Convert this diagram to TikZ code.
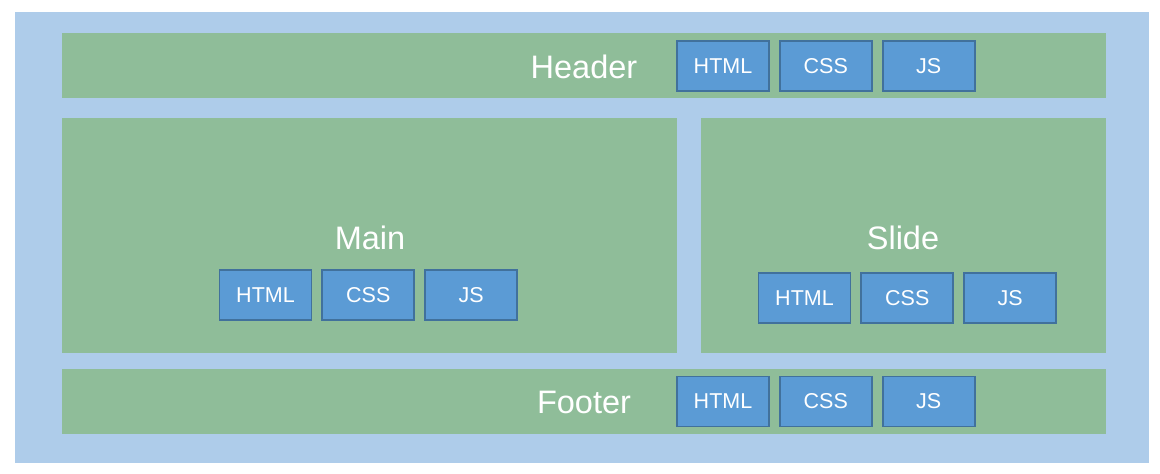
\documentclass[tikz,border=0pt]{standalone}
\usepackage{fontspec}
\setmainfont{Liberation Sans}
\usetikzlibrary{positioning}

\definecolor{pageblue}{HTML}{AECCEA}
\definecolor{areagreen}{HTML}{8FBD99}
\definecolor{partblue}{HTML}{5B9BD5}
\definecolor{partedge}{HTML}{41719C}

\begin{document}
\begin{tikzpicture}[x=1pt,y=-1pt,node distance=9pt]

   \tikzstyle{area}=[fill=areagreen,draw=none,inner sep=0pt]
   \tikzstyle{part}=[fill=partblue,draw=partedge,line width=1.8pt,text=white,
                     minimum width=92pt,minimum height=50pt,inner sep=0pt,
                     font=\fontsize{21.5}{24}\selectfont]
   \tikzstyle{title}=[text=white,inner sep=0pt,font=\fontsize{32.5}{36}\selectfont]

   % page and outer frame
   \useasboundingbox[fill=white] (0,0) rectangle (1160,474);
   \fill[pageblue] (15,12) rectangle (1149,463);

   % areas
   \node[area,minimum width=1044pt,minimum height=65pt] (header) at (584,65.5) {};
   \node[area,minimum width=615pt,minimum height=235pt] (main) at (369.5,235.5) {};
   \node[area,minimum width=405pt,minimum height=235pt] (slide) at (903.5,235.5) {};
   \node[area,minimum width=1044pt,minimum height=65pt] (footer) at (584,401.5) {};

   % titles
   \node[title] (headert) at (584,66.5) {Header};
   \node[title] (maint) at (370,237.5) {Main};
   \node[title] (slidet) at (903,237.5) {Slide};
   \node[title] (footert) at (584,402.5) {Footer};

   % header parts
   \node[part] (hhtml) at (723,66) {HTML};
   \node[part] (hcss) [right=of hhtml] {CSS};
   \node[part] (hjs) [right=of hcss] {JS};

   % main parts
   \node[part] (mhtml) at (265.5,295) {HTML};
   \node[part] (mcss) [right=of mhtml] {CSS};
   \node[part] (mjs) [right=of mcss] {JS};

   % slide parts
   \node[part] (shtml) at (804.5,298) {HTML};
   \node[part] (scss) [right=of shtml] {CSS};
   \node[part] (sjs) [right=of scss] {JS};

   % footer parts
   \node[part] (fhtml) at (723,401.5) {HTML};
   \node[part] (fcss) [right=of fhtml] {CSS};
   \node[part] (fjs) [right=of fcss] {JS};

\end{tikzpicture}
\end{document}
